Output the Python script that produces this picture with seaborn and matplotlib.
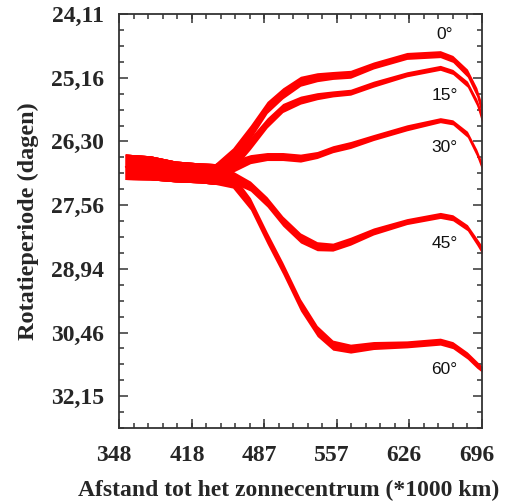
import numpy as np
import matplotlib
matplotlib.use('Agg')
import matplotlib.pyplot as plt
import matplotlib.transforms as mtransforms
import seaborn as sns

# afstand tot het zonnecentrum (*1000 km)
afstand = [354, 378, 402, 426, 440, 457, 474, 490, 505, 522, 538, 553, 570,
           592, 624, 656, 668, 682, 691, 696]

# binnenste deel: alle breedtegraden vallen samen (periode, halve breedte in dagen)
binnen_p = [26.79, 26.81, 26.88, 26.91, 26.93]
binnen_w = [0.248, 0.235, 0.205, 0.196, 0.205]

# per breedtegraad vanaf 457 (periode in dagen, halve bandbreedte in dagen)
p_0 = [26.58, 26.13, 25.68, 25.43, 25.22, 25.15, 25.12, 25.10, 24.95, 24.79, 24.76, 24.84, 25.08, 25.41, 25.73]
w_0 = [0.153, 0.130, 0.107, 0.096, 0.086, 0.077, 0.068, 0.068, 0.059, 0.058, 0.058, 0.058, 0.068, 0.079, 0.108]
p_15 = [26.70, 26.34, 25.96, 25.69, 25.55, 25.48, 25.44, 25.41, 25.27, 25.10, 24.99, 25.06, 25.27, 25.59, 25.87]
w_15 = [0.155, 0.113, 0.091, 0.081, 0.071, 0.062, 0.053, 0.052, 0.052, 0.043, 0.042, 0.043, 0.052, 0.062, 0.091]
p_30 = [26.78, 26.64, 26.59, 26.59, 26.62, 26.56, 26.45, 26.37, 26.23, 26.05, 25.91, 25.95, 26.17, 26.52, 26.78]
w_30 = [0.117, 0.087, 0.077, 0.077, 0.077, 0.067, 0.066, 0.066, 0.056, 0.055, 0.046, 0.046, 0.056, 0.067, 0.078]
p_45 = [26.99, 27.17, 27.49, 27.89, 28.25, 28.43, 28.45, 28.32, 28.11, 27.90, 27.77, 27.82, 28.03, 28.33, 28.51]
w_45 = [0.119, 0.100, 0.103, 0.106, 0.108, 0.099, 0.088, 0.087, 0.075, 0.063, 0.063, 0.063, 0.064, 0.076, 0.088]
p_60 = [27.07, 27.53, 28.25, 28.92, 29.78, 30.42, 30.78, 30.87, 30.79, 30.76, 30.69, 30.78, 31.05, 31.29, 31.41]
w_60 = [0.139, 0.123, 0.130, 0.136, 0.144, 0.138, 0.129, 0.116, 0.103, 0.090, 0.089, 0.090, 0.092, 0.093, 0.080]

breedtes = ['0°', '15°', '30°', '45°', '60°']
label_p = [24.43, 25.46, 26.41, 28.36, 31.43]

x_ticks = [348, 418, 487, 557, 626, 696]
y_ticks = [24.11, 25.16, 26.30, 27.56, 28.94, 30.46, 32.15]
y_labels = ['24,11', '25,16', '26,30', '27,56', '28,94', '30,46', '32,15']

sns.set_style('ticks')
plt.rcParams['font.family'] = ['Liberation Serif', 'DejaVu Serif']
plt.rcParams['font.weight'] = 'bold'


def naar_freq(p):
    p = np.asarray(p, dtype=float)
    with np.errstate(divide='ignore', invalid='ignore'):
        return -1.0 / p


def van_freq(v):
    v = np.asarray(v, dtype=float)
    with np.errstate(divide='ignore', invalid='ignore'):
        return -1.0 / v


fig = plt.figure(figsize=(5.07, 5.01), dpi=100)
ax = fig.add_axes([0.2347, 0.1457, 0.716, 0.8263])
ax.set_yscale('function', functions=(naar_freq, van_freq))

for p, w in [(p_0, w_0), (p_15, w_15), (p_30, w_30), (p_45, w_45), (p_60, w_60)]:
    pp = np.array(binnen_p + p)
    ww = np.array(binnen_w + w)
    ax.fill_between(afstand, pp - ww, pp + ww, color='#ff0000', linewidth=0)
    sns.lineplot(x=afstand, y=pp, ax=ax, color='#ff0000', linewidth=0.5)

for tekst, pl in zip(breedtes, label_p):
    ax.text(660, pl, tekst, ha='center', va='center', fontsize=12.5,
            family='Liberation Sans', fontweight='normal', color='#111111')

ax.set_xlim(348, 696)
ax.set_ylim(33.069, 24.113)
ax.set_xticks(x_ticks)
ax.set_xticks(np.arange(348, 697, 13.92), minor=True)
ax.set_yticks(y_ticks)
ax.set_yticklabels(y_labels)
ax.set_yticks([1e9 / (f * 86400) for f in range(350, 481, 5) if f % 20 != 0], minor=True)

for s in ax.spines.values():
    s.set_linewidth(1.3)
    s.set_color('#333333')
ax.tick_params(which='both', direction='in', top=True, right=True, width=1.1,
               color='#333333', labelsize=17)
ax.tick_params(which='major', length=6.5)
ax.tick_params(which='minor', length=3.6)
ax.tick_params(axis='y', which='major', pad=11)
ax.tick_params(axis='x', which='major', pad=12)

verschuif = mtransforms.ScaledTranslation(-0.05, 0, fig.dpi_scale_trans)
for lab in ax.get_xticklabels():
    lab.set_transform(lab.get_transform() + verschuif)

ax.set_xlabel('Afstand tot het zonnecentrum (*1000 km)', fontsize=17, fontweight='bold')
ax.xaxis.set_label_coords(0.468, -0.125)
ax.set_ylabel('Rotatieperiode (dagen)', fontsize=17.5, fontweight='bold', labelpad=8)

fig.savefig('out.png', dpi=100)
